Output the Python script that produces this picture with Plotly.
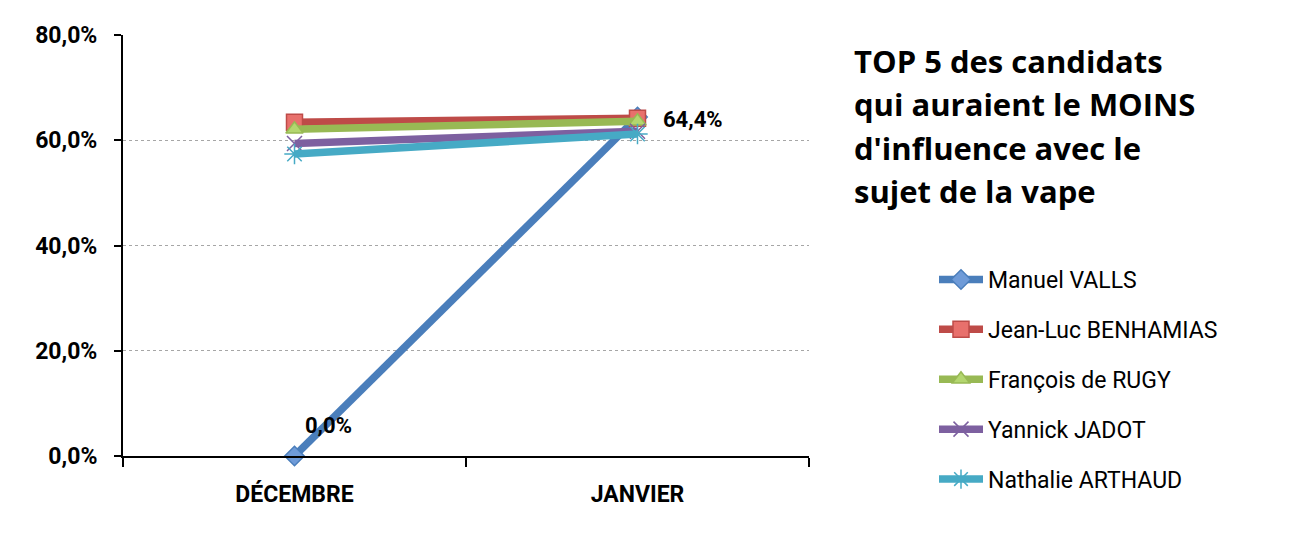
import plotly.graph_objects as go

categories = ["DÉCEMBRE", "JANVIER"]
series_names = ["Manuel VALLS", "Jean-Luc BENHAMIAS", "François de RUGY", "Yannick JADOT", "Nathalie ARTHAUD"]
valls = [0.0, 0.644]
benhamias = [0.634, 0.642]
rugy = [0.621, 0.636]
jadot = [0.594, 0.617]
arthaud = [0.574, 0.612]
y_ticks = [0, 0.2, 0.4, 0.6, 0.8]
title_lines = ["TOP 5 des candidats", "qui auraient le MOINS", "d'influence avec le", "sujet de la vape"]

values = [valls, benhamias, rugy, jadot, arthaud]
line_colors = ["#4A7EBB", "#BE4B48", "#98B954", "#7D60A0", "#46AAC5"]
marker_fill = ["#6F9BD8", "#E8706C", "#B3D66F", "#7D60A0", "#46AAC5"]
symbols = ["diamond", "square", "triangle-up", "x-thin-open", "asterisk-open"]
sizes = [15, 16, 15, 15, 17]

font_main = "Roboto, DejaVu Sans Condensed, sans-serif"

fig = go.Figure()
for i, (name, vals) in enumerate(zip(series_names, values)):
    fig.add_trace(go.Scatter(
        x=categories, y=vals, name=name, mode="lines+markers",
        line=dict(color=line_colors[i], width=7.5),
        marker=dict(symbol=symbols[i], size=sizes[i], color=marker_fill[i],
                    line=dict(color=line_colors[i], width=1.5)),
        cliponaxis=False, legendgroup=name,
    ))

# data labels of the first series
label_shift = [(8, 31), (23, -2)]
for cat, v, (dx, dy) in zip(categories, valls, label_shift):
    fig.add_annotation(
        x=cat, y=v, xref="x", yref="y", showarrow=False,
        text=f"{v*100:.1f}%".replace(".", ","),
        xanchor="left", yanchor="middle", xshift=dx, yshift=dy,
        font=dict(family=font_main, size=22, color="#000000", weight="bold"),
    )

# page body has an 8px margin: figure coordinates = screen - 8
W, H = 1294, 545
x0, x1, y0, y1 = 115, 801, 27, 448
pw, ph = x1 - x0, y1 - y0
fig.update_layout(
    width=W, height=H,
    margin=dict(l=x0, r=W - x1, t=y0, b=H - y1),
    plot_bgcolor="white", paper_bgcolor="white",
    separators=", ",
    showlegend=True,
    legend=dict(
        x=(926 - x0) / pw, xanchor="left",
        y=(y1 - 250) / ph, yanchor="top",
        font=dict(family=font_main, size=23, color="#000000"),
        traceorder="grouped", tracegroupgap=17,
        itemwidth=44,
        bgcolor="rgba(0,0,0,0)",
    ),
    xaxis=dict(
        type="category", range=[-0.5, 1.5],
        tickson="boundaries", ticks="outside", ticklen=9, tickwidth=2, tickcolor="#000000",
        showline=True, linecolor="#000000", linewidth=2,
        showgrid=False, ticklabelstandoff=16,
        tickfont=dict(family=font_main, size=23, color="#000000", weight="bold"),
    ),
    yaxis=dict(
        range=[0, 0.8], tickvals=y_ticks, tickformat=".1%",
        ticks="outside", ticklen=7, tickwidth=2, tickcolor="#000000",
        showline=True, linecolor="#000000", linewidth=2,
        showgrid=True, gridcolor="#A6A6A6", griddash="dot", gridwidth=1,
        zeroline=False, ticklabelstandoff=12,
        tickfont=dict(family=font_main, size=23, color="#000000", weight="bold"),
    ),
)

title_y = [53, 96, 140, 183]
for line, yy in zip(title_lines, title_y):
    fig.add_annotation(
        text=line, xref="paper", yref="paper",
        x=(844 - x0) / pw, y=(y1 - yy) / ph,
        xanchor="left", yanchor="middle", showarrow=False, align="left",
        font=dict(family="Open Sans, Lato, sans-serif", size=31, color="#000000", weight="bold"),
    )

fig.write_html("out.html")
